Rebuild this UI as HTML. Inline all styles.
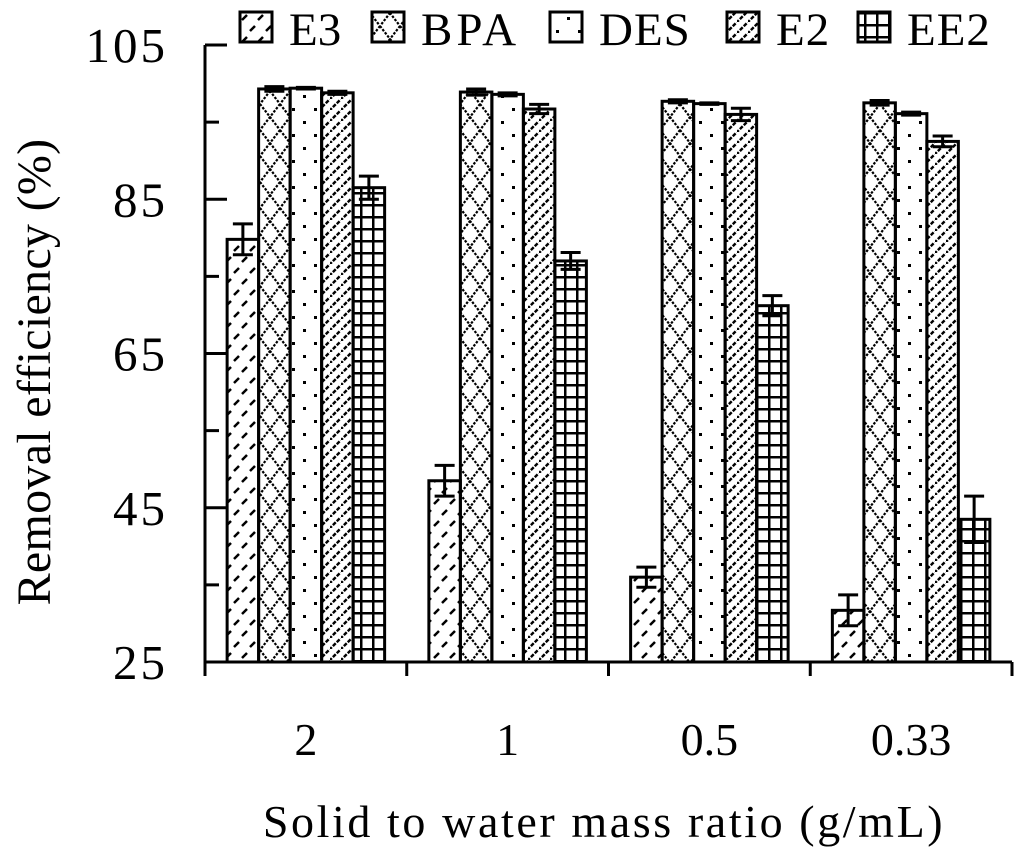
<!DOCTYPE html>
<html><head><meta charset="utf-8"><style>
html,body{margin:0;padding:0;background:#fff;}
svg{display:block;font-family:"Liberation Serif",serif;}
</style></head><body>
<svg id="chart" width="1024" height="855" viewBox="0 0 1024 855">
<defs>
<pattern id="pE3" patternUnits="userSpaceOnUse" width="16" height="22"><path d="M2 20 L7 15 M10 9 L15 4" stroke="#000" stroke-width="2.5"/></pattern>
<pattern id="pBPA" patternUnits="userSpaceOnUse" width="20" height="26"><path d="M0 0 L20 26 M20 0 L0 26" stroke="#000" stroke-width="2.2" stroke-dasharray="2.5 1.5"/></pattern>
<pattern id="pDES" patternUnits="userSpaceOnUse" width="22" height="26"><rect x="6" y="4" width="3" height="3" fill="#000"/><rect x="17" y="17" width="3" height="3" fill="#000"/></pattern>
<pattern id="pE2" patternUnits="userSpaceOnUse" width="11" height="11"><path d="M-1 12 L12 -1" stroke="#000" stroke-width="2.4" stroke-dasharray="4 1.5"/></pattern>
<pattern id="pEE2" patternUnits="userSpaceOnUse" width="12" height="12"><path d="M0 1 H12 M1 0 V12" stroke="#000" stroke-width="3"/></pattern>
</defs>
<g id="plot"></g>
</svg>
<script>
const categories=["2","1","0.5","0.33"];
const seriesNames=["E3","BPA","DES","E2","EE2"];
const E3=[79.8,48.5,36,31.7];
const BPA=[99.3,98.9,97.7,97.5];
const DES=[99.4,98.6,97.4,96.1];
const E2=[98.8,96.7,96,92.5];
const EE2=[86.5,77,71.2,43.5];
const E3err=[2,2,1.3,2];
const BPAerr=[0.3,0.4,0.2,0.3];
const DESerr=[0.1,0.2,0.1,0.2];
const E2err=[0.2,0.6,0.8,0.7];
const EE2err=[1.5,1.1,1.3,3];
const yTicks=[25,45,65,85,105];
const yMin=25,yMax=105;
const NS="http://www.w3.org/2000/svg";
const g=document.getElementById('plot');
const X0=205,X1=1012,Y0=662,Y1=45;
function y(v){return Y0-(v-yMin)/(yMax-yMin)*(Y0-Y1);}
const groupW=(X1-X0)/categories.length;
const barW=31.5;
function gx(i){return X0+groupW*(i+0.5);}
function mk(tag,attrs){const e=document.createElementNS(NS,tag);for(const k in attrs)e.setAttribute(k,attrs[k]);g.appendChild(e);return e;}
const all=[E3,BPA,DES,E2,EE2],errs=[E3err,BPAerr,DESerr,E2err,EE2err];
const pats=["pE3","pBPA","pDES","pE2","pEE2"];
all.forEach((s,si)=>{s.forEach((v,ci)=>{
 const x=gx(ci)+(si-2.5)*barW;
 const r=mk('rect',{x:x,y:y(v),width:barW,height:Y0-y(v),fill:'url(#'+pats[si]+')',stroke:'#000','stroke-width':3});
 
 
 const e=errs[si][ci],cx=x+barW/2;
 const p=mk('path',{d:`M${cx} ${y(v+e)} V${y(v-e)} M${cx-10} ${y(v+e)} H${cx+10} M${cx-10} ${y(v-e)} H${cx+10}`,stroke:'#000','stroke-width':3,fill:'none'});
 
 
});});
const ax=mk('path',{d:`M${X0} ${Y1} V${Y0} H${X1}`,stroke:'#000','stroke-width':3,fill:'none'});


for(let v=25;v<=105;v+=10){
 const major=yTicks.includes(v);
 const t=mk('line',{x1:X0,x2:X0+(major?22:14),y1:y(v),y2:y(v),stroke:'#000','stroke-width':3});
 
 
}
yTicks.forEach(v=>{const t=mk('text',{x:X0-37,y:y(v)+17,'text-anchor':'end','font-size':49,'letter-spacing':3});t.textContent=v;
 
 });
for(let i=0;i<=categories.length;i++){const x=X0+groupW*i;
 const t=mk('line',{x1:x,x2:x,y1:Y0,y2:Y0+14,stroke:'#000','stroke-width':3});
 
 }
categories.forEach((c,i)=>{const t=mk('text',{x:gx(i),y:755,'text-anchor':'middle','font-size':46});t.textContent=c;
 
 });
const xt=mk('text',{x:604,y:837,'text-anchor':'middle','font-size':46,'letter-spacing':2.6});xt.textContent='Solid to water mass ratio (g/mL)';


const yt=mk('text',{x:0,y:0,'text-anchor':'middle','font-size':48,'letter-spacing':0.3,transform:'translate(50 372) rotate(-90)'});yt.textContent='Removal efficiency (%)';


const legX=[240,372,550,727,858];
const legSp=[0,4,1,1,1];
seriesNames.forEach((n,i)=>{
 const b=mk('rect',{x:legX[i],y:12,width:32,height:30,fill:'url(#'+pats[i]+')',stroke:'#000','stroke-width':3});
 
 
 const t=mk('text',{x:legX[i]+49,y:45,'font-size':47,'letter-spacing':legSp[i]});t.textContent=n;
 
 
});
</script>
</body></html>
